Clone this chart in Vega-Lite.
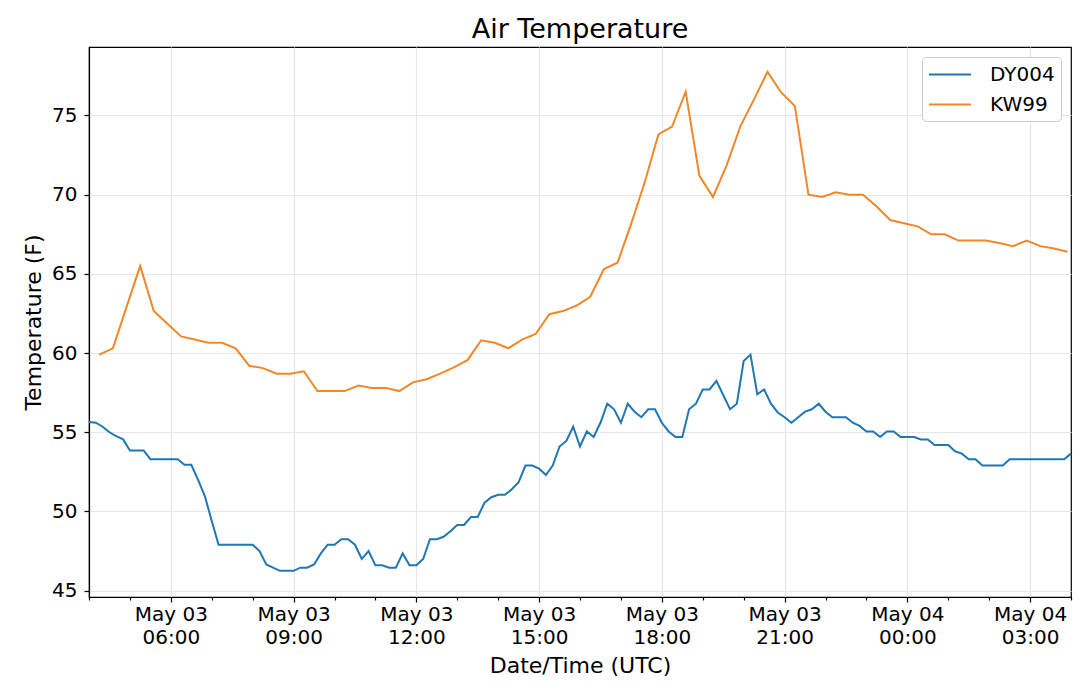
{
  "$schema": "https://vega.github.io/schema/vega-lite/v6.json",
  "autosize": {"type": "none"},
  "padding": {"left": 89, "top": 47, "right": 9, "bottom": 100},
  "width": 982,
  "height": 550,
  "title": {
    "text": "Air Temperature",
    "fontSize": 27,
    "fontWeight": "normal",
    "color": "black",
    "anchor": "middle",
    "frame": "group",
    "offset": 3
  },
  "data": {
    "values": [
      {"t": "2019-05-03T04:00:00Z", "s": "DY004", "v": 55.65},
      {"t": "2019-05-03T04:10:00Z", "s": "DY004", "v": 55.6},
      {"t": "2019-05-03T04:20:00Z", "s": "DY004", "v": 55.35},
      {"t": "2019-05-03T04:30:00Z", "s": "DY004", "v": 55.0},
      {"t": "2019-05-03T04:40:00Z", "s": "DY004", "v": 54.75},
      {"t": "2019-05-03T04:50:00Z", "s": "DY004", "v": 54.55},
      {"t": "2019-05-03T05:00:00Z", "s": "DY004", "v": 53.85},
      {"t": "2019-05-03T05:10:00Z", "s": "DY004", "v": 53.85},
      {"t": "2019-05-03T05:20:00Z", "s": "DY004", "v": 53.85},
      {"t": "2019-05-03T05:30:00Z", "s": "DY004", "v": 53.3},
      {"t": "2019-05-03T05:40:00Z", "s": "DY004", "v": 53.3},
      {"t": "2019-05-03T05:50:00Z", "s": "DY004", "v": 53.3},
      {"t": "2019-05-03T06:00:00Z", "s": "DY004", "v": 53.3},
      {"t": "2019-05-03T06:10:00Z", "s": "DY004", "v": 53.3},
      {"t": "2019-05-03T06:20:00Z", "s": "DY004", "v": 52.95},
      {"t": "2019-05-03T06:30:00Z", "s": "DY004", "v": 52.95},
      {"t": "2019-05-03T06:40:00Z", "s": "DY004", "v": 52.0},
      {"t": "2019-05-03T06:50:00Z", "s": "DY004", "v": 50.95},
      {"t": "2019-05-03T07:00:00Z", "s": "DY004", "v": 49.4},
      {"t": "2019-05-03T07:10:00Z", "s": "DY004", "v": 47.9},
      {"t": "2019-05-03T07:20:00Z", "s": "DY004", "v": 47.9},
      {"t": "2019-05-03T07:30:00Z", "s": "DY004", "v": 47.9},
      {"t": "2019-05-03T07:40:00Z", "s": "DY004", "v": 47.9},
      {"t": "2019-05-03T07:50:00Z", "s": "DY004", "v": 47.9},
      {"t": "2019-05-03T08:00:00Z", "s": "DY004", "v": 47.9},
      {"t": "2019-05-03T08:10:00Z", "s": "DY004", "v": 47.5},
      {"t": "2019-05-03T08:20:00Z", "s": "DY004", "v": 46.65},
      {"t": "2019-05-03T08:30:00Z", "s": "DY004", "v": 46.45},
      {"t": "2019-05-03T08:40:00Z", "s": "DY004", "v": 46.25},
      {"t": "2019-05-03T08:50:00Z", "s": "DY004", "v": 46.25},
      {"t": "2019-05-03T09:00:00Z", "s": "DY004", "v": 46.25},
      {"t": "2019-05-03T09:10:00Z", "s": "DY004", "v": 46.45},
      {"t": "2019-05-03T09:20:00Z", "s": "DY004", "v": 46.45},
      {"t": "2019-05-03T09:30:00Z", "s": "DY004", "v": 46.65},
      {"t": "2019-05-03T09:40:00Z", "s": "DY004", "v": 47.35},
      {"t": "2019-05-03T09:50:00Z", "s": "DY004", "v": 47.9},
      {"t": "2019-05-03T10:00:00Z", "s": "DY004", "v": 47.9},
      {"t": "2019-05-03T10:10:00Z", "s": "DY004", "v": 48.25},
      {"t": "2019-05-03T10:20:00Z", "s": "DY004", "v": 48.25},
      {"t": "2019-05-03T10:30:00Z", "s": "DY004", "v": 47.9},
      {"t": "2019-05-03T10:40:00Z", "s": "DY004", "v": 47.0},
      {"t": "2019-05-03T10:50:00Z", "s": "DY004", "v": 47.5},
      {"t": "2019-05-03T11:00:00Z", "s": "DY004", "v": 46.6},
      {"t": "2019-05-03T11:10:00Z", "s": "DY004", "v": 46.6},
      {"t": "2019-05-03T11:20:00Z", "s": "DY004", "v": 46.45},
      {"t": "2019-05-03T11:30:00Z", "s": "DY004", "v": 46.45},
      {"t": "2019-05-03T11:40:00Z", "s": "DY004", "v": 47.35},
      {"t": "2019-05-03T11:50:00Z", "s": "DY004", "v": 46.6},
      {"t": "2019-05-03T12:00:00Z", "s": "DY004", "v": 46.6},
      {"t": "2019-05-03T12:10:00Z", "s": "DY004", "v": 47.0},
      {"t": "2019-05-03T12:20:00Z", "s": "DY004", "v": 48.25},
      {"t": "2019-05-03T12:30:00Z", "s": "DY004", "v": 48.25},
      {"t": "2019-05-03T12:40:00Z", "s": "DY004", "v": 48.4},
      {"t": "2019-05-03T12:50:00Z", "s": "DY004", "v": 48.75},
      {"t": "2019-05-03T13:00:00Z", "s": "DY004", "v": 49.15},
      {"t": "2019-05-03T13:10:00Z", "s": "DY004", "v": 49.15},
      {"t": "2019-05-03T13:20:00Z", "s": "DY004", "v": 49.65},
      {"t": "2019-05-03T13:30:00Z", "s": "DY004", "v": 49.65},
      {"t": "2019-05-03T13:40:00Z", "s": "DY004", "v": 50.55},
      {"t": "2019-05-03T13:50:00Z", "s": "DY004", "v": 50.9},
      {"t": "2019-05-03T14:00:00Z", "s": "DY004", "v": 51.05},
      {"t": "2019-05-03T14:10:00Z", "s": "DY004", "v": 51.05},
      {"t": "2019-05-03T14:20:00Z", "s": "DY004", "v": 51.4},
      {"t": "2019-05-03T14:30:00Z", "s": "DY004", "v": 51.85},
      {"t": "2019-05-03T14:40:00Z", "s": "DY004", "v": 52.9},
      {"t": "2019-05-03T14:50:00Z", "s": "DY004", "v": 52.9},
      {"t": "2019-05-03T15:00:00Z", "s": "DY004", "v": 52.7},
      {"t": "2019-05-03T15:10:00Z", "s": "DY004", "v": 52.3},
      {"t": "2019-05-03T15:20:00Z", "s": "DY004", "v": 52.9},
      {"t": "2019-05-03T15:30:00Z", "s": "DY004", "v": 54.1},
      {"t": "2019-05-03T15:40:00Z", "s": "DY004", "v": 54.45},
      {"t": "2019-05-03T15:50:00Z", "s": "DY004", "v": 55.35},
      {"t": "2019-05-03T16:00:00Z", "s": "DY004", "v": 54.1},
      {"t": "2019-05-03T16:10:00Z", "s": "DY004", "v": 55.05},
      {"t": "2019-05-03T16:20:00Z", "s": "DY004", "v": 54.7},
      {"t": "2019-05-03T16:30:00Z", "s": "DY004", "v": 55.6},
      {"t": "2019-05-03T16:40:00Z", "s": "DY004", "v": 56.8},
      {"t": "2019-05-03T16:50:00Z", "s": "DY004", "v": 56.45},
      {"t": "2019-05-03T17:00:00Z", "s": "DY004", "v": 55.6},
      {"t": "2019-05-03T17:10:00Z", "s": "DY004", "v": 56.8},
      {"t": "2019-05-03T17:20:00Z", "s": "DY004", "v": 56.3},
      {"t": "2019-05-03T17:30:00Z", "s": "DY004", "v": 55.95},
      {"t": "2019-05-03T17:40:00Z", "s": "DY004", "v": 56.45},
      {"t": "2019-05-03T17:50:00Z", "s": "DY004", "v": 56.45},
      {"t": "2019-05-03T18:00:00Z", "s": "DY004", "v": 55.6},
      {"t": "2019-05-03T18:10:00Z", "s": "DY004", "v": 55.05},
      {"t": "2019-05-03T18:20:00Z", "s": "DY004", "v": 54.7},
      {"t": "2019-05-03T18:30:00Z", "s": "DY004", "v": 54.7},
      {"t": "2019-05-03T18:40:00Z", "s": "DY004", "v": 56.45},
      {"t": "2019-05-03T18:50:00Z", "s": "DY004", "v": 56.8},
      {"t": "2019-05-03T19:00:00Z", "s": "DY004", "v": 57.7},
      {"t": "2019-05-03T19:10:00Z", "s": "DY004", "v": 57.7},
      {"t": "2019-05-03T19:20:00Z", "s": "DY004", "v": 58.25},
      {"t": "2019-05-03T19:30:00Z", "s": "DY004", "v": 57.35},
      {"t": "2019-05-03T19:40:00Z", "s": "DY004", "v": 56.45},
      {"t": "2019-05-03T19:50:00Z", "s": "DY004", "v": 56.8},
      {"t": "2019-05-03T20:00:00Z", "s": "DY004", "v": 59.5},
      {"t": "2019-05-03T20:10:00Z", "s": "DY004", "v": 59.9},
      {"t": "2019-05-03T20:20:00Z", "s": "DY004", "v": 57.4},
      {"t": "2019-05-03T20:30:00Z", "s": "DY004", "v": 57.7},
      {"t": "2019-05-03T20:40:00Z", "s": "DY004", "v": 56.8},
      {"t": "2019-05-03T20:50:00Z", "s": "DY004", "v": 56.25},
      {"t": "2019-05-03T21:00:00Z", "s": "DY004", "v": 55.95},
      {"t": "2019-05-03T21:10:00Z", "s": "DY004", "v": 55.6},
      {"t": "2019-05-03T21:20:00Z", "s": "DY004", "v": 55.95},
      {"t": "2019-05-03T21:30:00Z", "s": "DY004", "v": 56.3},
      {"t": "2019-05-03T21:40:00Z", "s": "DY004", "v": 56.45},
      {"t": "2019-05-03T21:50:00Z", "s": "DY004", "v": 56.8},
      {"t": "2019-05-03T22:00:00Z", "s": "DY004", "v": 56.3},
      {"t": "2019-05-03T22:10:00Z", "s": "DY004", "v": 55.95},
      {"t": "2019-05-03T22:20:00Z", "s": "DY004", "v": 55.95},
      {"t": "2019-05-03T22:30:00Z", "s": "DY004", "v": 55.95},
      {"t": "2019-05-03T22:40:00Z", "s": "DY004", "v": 55.6},
      {"t": "2019-05-03T22:50:00Z", "s": "DY004", "v": 55.4},
      {"t": "2019-05-03T23:00:00Z", "s": "DY004", "v": 55.05},
      {"t": "2019-05-03T23:10:00Z", "s": "DY004", "v": 55.05},
      {"t": "2019-05-03T23:20:00Z", "s": "DY004", "v": 54.7},
      {"t": "2019-05-03T23:30:00Z", "s": "DY004", "v": 55.05},
      {"t": "2019-05-03T23:40:00Z", "s": "DY004", "v": 55.05},
      {"t": "2019-05-03T23:50:00Z", "s": "DY004", "v": 54.7},
      {"t": "2019-05-04T00:00:00Z", "s": "DY004", "v": 54.7},
      {"t": "2019-05-04T00:10:00Z", "s": "DY004", "v": 54.7},
      {"t": "2019-05-04T00:20:00Z", "s": "DY004", "v": 54.55},
      {"t": "2019-05-04T00:30:00Z", "s": "DY004", "v": 54.55},
      {"t": "2019-05-04T00:40:00Z", "s": "DY004", "v": 54.2},
      {"t": "2019-05-04T00:50:00Z", "s": "DY004", "v": 54.2},
      {"t": "2019-05-04T01:00:00Z", "s": "DY004", "v": 54.2},
      {"t": "2019-05-04T01:10:00Z", "s": "DY004", "v": 53.8},
      {"t": "2019-05-04T01:20:00Z", "s": "DY004", "v": 53.65},
      {"t": "2019-05-04T01:30:00Z", "s": "DY004", "v": 53.3},
      {"t": "2019-05-04T01:40:00Z", "s": "DY004", "v": 53.3},
      {"t": "2019-05-04T01:50:00Z", "s": "DY004", "v": 52.9},
      {"t": "2019-05-04T02:00:00Z", "s": "DY004", "v": 52.9},
      {"t": "2019-05-04T02:10:00Z", "s": "DY004", "v": 52.9},
      {"t": "2019-05-04T02:20:00Z", "s": "DY004", "v": 52.9},
      {"t": "2019-05-04T02:30:00Z", "s": "DY004", "v": 53.3},
      {"t": "2019-05-04T02:40:00Z", "s": "DY004", "v": 53.3},
      {"t": "2019-05-04T02:50:00Z", "s": "DY004", "v": 53.3},
      {"t": "2019-05-04T03:00:00Z", "s": "DY004", "v": 53.3},
      {"t": "2019-05-04T03:10:00Z", "s": "DY004", "v": 53.3},
      {"t": "2019-05-04T03:20:00Z", "s": "DY004", "v": 53.3},
      {"t": "2019-05-04T03:30:00Z", "s": "DY004", "v": 53.3},
      {"t": "2019-05-04T03:40:00Z", "s": "DY004", "v": 53.3},
      {"t": "2019-05-04T03:50:00Z", "s": "DY004", "v": 53.3},
      {"t": "2019-05-04T04:00:00Z", "s": "DY004", "v": 53.65},
      {"t": "2019-05-03T04:15:00Z", "s": "KW99", "v": 59.9},
      {"t": "2019-05-03T04:35:00Z", "s": "KW99", "v": 60.3},
      {"t": "2019-05-03T04:55:00Z", "s": "KW99", "v": 62.9},
      {"t": "2019-05-03T05:15:00Z", "s": "KW99", "v": 65.5},
      {"t": "2019-05-03T05:35:00Z", "s": "KW99", "v": 62.65},
      {"t": "2019-05-03T05:55:00Z", "s": "KW99", "v": 61.85},
      {"t": "2019-05-03T06:15:00Z", "s": "KW99", "v": 61.05},
      {"t": "2019-05-03T06:35:00Z", "s": "KW99", "v": 60.85},
      {"t": "2019-05-03T06:55:00Z", "s": "KW99", "v": 60.65},
      {"t": "2019-05-03T07:15:00Z", "s": "KW99", "v": 60.65},
      {"t": "2019-05-03T07:35:00Z", "s": "KW99", "v": 60.3},
      {"t": "2019-05-03T07:55:00Z", "s": "KW99", "v": 59.2},
      {"t": "2019-05-03T08:15:00Z", "s": "KW99", "v": 59.05},
      {"t": "2019-05-03T08:35:00Z", "s": "KW99", "v": 58.7},
      {"t": "2019-05-03T08:55:00Z", "s": "KW99", "v": 58.7},
      {"t": "2019-05-03T09:15:00Z", "s": "KW99", "v": 58.85},
      {"t": "2019-05-03T09:35:00Z", "s": "KW99", "v": 57.6},
      {"t": "2019-05-03T09:55:00Z", "s": "KW99", "v": 57.6},
      {"t": "2019-05-03T10:15:00Z", "s": "KW99", "v": 57.6},
      {"t": "2019-05-03T10:35:00Z", "s": "KW99", "v": 57.95},
      {"t": "2019-05-03T10:55:00Z", "s": "KW99", "v": 57.8},
      {"t": "2019-05-03T11:15:00Z", "s": "KW99", "v": 57.8},
      {"t": "2019-05-03T11:35:00Z", "s": "KW99", "v": 57.6},
      {"t": "2019-05-03T11:55:00Z", "s": "KW99", "v": 58.15},
      {"t": "2019-05-03T12:15:00Z", "s": "KW99", "v": 58.35},
      {"t": "2019-05-03T12:35:00Z", "s": "KW99", "v": 58.7},
      {"t": "2019-05-03T12:55:00Z", "s": "KW99", "v": 59.1},
      {"t": "2019-05-03T13:15:00Z", "s": "KW99", "v": 59.55},
      {"t": "2019-05-03T13:35:00Z", "s": "KW99", "v": 60.8},
      {"t": "2019-05-03T13:55:00Z", "s": "KW99", "v": 60.65},
      {"t": "2019-05-03T14:15:00Z", "s": "KW99", "v": 60.3},
      {"t": "2019-05-03T14:35:00Z", "s": "KW99", "v": 60.85},
      {"t": "2019-05-03T14:55:00Z", "s": "KW99", "v": 61.2},
      {"t": "2019-05-03T15:15:00Z", "s": "KW99", "v": 62.45},
      {"t": "2019-05-03T15:35:00Z", "s": "KW99", "v": 62.65},
      {"t": "2019-05-03T15:55:00Z", "s": "KW99", "v": 63.0},
      {"t": "2019-05-03T16:15:00Z", "s": "KW99", "v": 63.55},
      {"t": "2019-05-03T16:35:00Z", "s": "KW99", "v": 65.3},
      {"t": "2019-05-03T16:55:00Z", "s": "KW99", "v": 65.7},
      {"t": "2019-05-03T17:15:00Z", "s": "KW99", "v": 68.15},
      {"t": "2019-05-03T17:35:00Z", "s": "KW99", "v": 70.8},
      {"t": "2019-05-03T17:55:00Z", "s": "KW99", "v": 73.8},
      {"t": "2019-05-03T18:15:00Z", "s": "KW99", "v": 74.3},
      {"t": "2019-05-03T18:35:00Z", "s": "KW99", "v": 76.5},
      {"t": "2019-05-03T18:55:00Z", "s": "KW99", "v": 71.2},
      {"t": "2019-05-03T19:15:00Z", "s": "KW99", "v": 69.85},
      {"t": "2019-05-03T19:35:00Z", "s": "KW99", "v": 71.85},
      {"t": "2019-05-03T19:55:00Z", "s": "KW99", "v": 74.3},
      {"t": "2019-05-03T20:15:00Z", "s": "KW99", "v": 76.0},
      {"t": "2019-05-03T20:35:00Z", "s": "KW99", "v": 77.75},
      {"t": "2019-05-03T20:55:00Z", "s": "KW99", "v": 76.45},
      {"t": "2019-05-03T21:15:00Z", "s": "KW99", "v": 75.6},
      {"t": "2019-05-03T21:35:00Z", "s": "KW99", "v": 70.0},
      {"t": "2019-05-03T21:55:00Z", "s": "KW99", "v": 69.85},
      {"t": "2019-05-03T22:15:00Z", "s": "KW99", "v": 70.15},
      {"t": "2019-05-03T22:35:00Z", "s": "KW99", "v": 70.0},
      {"t": "2019-05-03T22:55:00Z", "s": "KW99", "v": 70.0},
      {"t": "2019-05-03T23:15:00Z", "s": "KW99", "v": 69.25},
      {"t": "2019-05-03T23:35:00Z", "s": "KW99", "v": 68.4},
      {"t": "2019-05-03T23:55:00Z", "s": "KW99", "v": 68.2},
      {"t": "2019-05-04T00:15:00Z", "s": "KW99", "v": 68.0},
      {"t": "2019-05-04T00:35:00Z", "s": "KW99", "v": 67.5},
      {"t": "2019-05-04T00:55:00Z", "s": "KW99", "v": 67.5},
      {"t": "2019-05-04T01:15:00Z", "s": "KW99", "v": 67.1},
      {"t": "2019-05-04T01:35:00Z", "s": "KW99", "v": 67.1},
      {"t": "2019-05-04T01:55:00Z", "s": "KW99", "v": 67.1},
      {"t": "2019-05-04T02:15:00Z", "s": "KW99", "v": 66.95},
      {"t": "2019-05-04T02:35:00Z", "s": "KW99", "v": 66.75},
      {"t": "2019-05-04T02:55:00Z", "s": "KW99", "v": 67.1},
      {"t": "2019-05-04T03:15:00Z", "s": "KW99", "v": 66.75},
      {"t": "2019-05-04T03:35:00Z", "s": "KW99", "v": 66.6},
      {"t": "2019-05-04T03:55:00Z", "s": "KW99", "v": 66.4}
    ]
  },
  "mark": {"type": "line", "strokeWidth": 2, "interpolate": "linear"},
  "encoding": {
    "x": {
      "field": "t",
      "type": "temporal",
      "scale": {
        "type": "utc",
        "domain": [
          {"year": 2019, "month": 5, "date": 3, "hours": 4, "utc": true},
          {"year": 2019, "month": 5, "date": 4, "hours": 4, "utc": true}
        ]
      },
      "axis": {
        "title": "Date/Time (UTC)",
        "values": [
          {"year": 2019, "month": 5, "date": 3, "hours": 4, "utc": true},
          {"year": 2019, "month": 5, "date": 3, "hours": 5, "utc": true},
          {"year": 2019, "month": 5, "date": 3, "hours": 6, "utc": true},
          {"year": 2019, "month": 5, "date": 3, "hours": 7, "utc": true},
          {"year": 2019, "month": 5, "date": 3, "hours": 8, "utc": true},
          {"year": 2019, "month": 5, "date": 3, "hours": 9, "utc": true},
          {"year": 2019, "month": 5, "date": 3, "hours": 10, "utc": true},
          {"year": 2019, "month": 5, "date": 3, "hours": 11, "utc": true},
          {"year": 2019, "month": 5, "date": 3, "hours": 12, "utc": true},
          {"year": 2019, "month": 5, "date": 3, "hours": 13, "utc": true},
          {"year": 2019, "month": 5, "date": 3, "hours": 14, "utc": true},
          {"year": 2019, "month": 5, "date": 3, "hours": 15, "utc": true},
          {"year": 2019, "month": 5, "date": 3, "hours": 16, "utc": true},
          {"year": 2019, "month": 5, "date": 3, "hours": 17, "utc": true},
          {"year": 2019, "month": 5, "date": 3, "hours": 18, "utc": true},
          {"year": 2019, "month": 5, "date": 3, "hours": 19, "utc": true},
          {"year": 2019, "month": 5, "date": 3, "hours": 20, "utc": true},
          {"year": 2019, "month": 5, "date": 3, "hours": 21, "utc": true},
          {"year": 2019, "month": 5, "date": 3, "hours": 22, "utc": true},
          {"year": 2019, "month": 5, "date": 3, "hours": 23, "utc": true},
          {"year": 2019, "month": 5, "date": 4, "hours": 0, "utc": true},
          {"year": 2019, "month": 5, "date": 4, "hours": 1, "utc": true},
          {"year": 2019, "month": 5, "date": 4, "hours": 2, "utc": true},
          {"year": 2019, "month": 5, "date": 4, "hours": 3, "utc": true},
          {"year": 2019, "month": 5, "date": 4, "hours": 4, "utc": true}
        ],
        "labelExpr": "utchours(datum.value) % 3 == 0 ? [utcFormat(datum.value, '%b %d'), utcFormat(datum.value, '%H:%M')] : ''",
        "labelLineHeight": 23.5,
        "labelPadding": 2,
        "labelOverlap": false,
        "labelFlush": false,
        "labelBound": false,
        "tickSize": {"condition": {"test": "utchours(datum.value) % 3 == 0", "value": 5}, "value": 3},
        "gridOpacity": {"condition": {"test": "utchours(datum.value) % 3 == 0", "value": 1}, "value": 0},
        "titlePadding": 8
      }
    },
    "y": {
      "field": "v",
      "type": "quantitative",
      "scale": {"domain": [44.6, 79.32], "nice": false, "zero": false},
      "axis": {
        "title": "Temperature (F)",
        "values": [45, 50, 55, 60, 65, 70, 75],
        "tickSize": 5,
        "labelPadding": 7,
        "titlePadding": 6
      }
    },
    "color": {
      "field": "s",
      "type": "nominal",
      "scale": {"domain": ["DY004", "KW99"], "range": ["#1f77b4", "#f0882a"]},
      "legend": {
        "title": null,
        "orient": "top-right",
        "offset": 10,
        "padding": 6,
        "strokeColor": "#cccccc",
        "fillColor": "white",
        "cornerRadius": 4,
        "symbolType": "M-1,0H3",
        "symbolSize": 441,
        "symbolStrokeWidth": 2,
        "labelFontSize": 20,
        "labelColor": "black",
        "labelOffset": 39,
        "rowPadding": 8
      }
    }
  },
  "config": {
    "font": "DejaVu Sans",
    "view": {"stroke": "black", "strokeWidth": 1.2},
    "axis": {
      "domainColor": "black",
      "domainWidth": 1.2,
      "tickColor": "black",
      "tickWidth": 1.2,
      "labelFontSize": 20,
      "labelColor": "black",
      "titleFontSize": 22,
      "titleFontWeight": "normal",
      "titleColor": "black",
      "gridColor": "#e6e6e6",
      "gridWidth": 1.2
    }
  }
}
